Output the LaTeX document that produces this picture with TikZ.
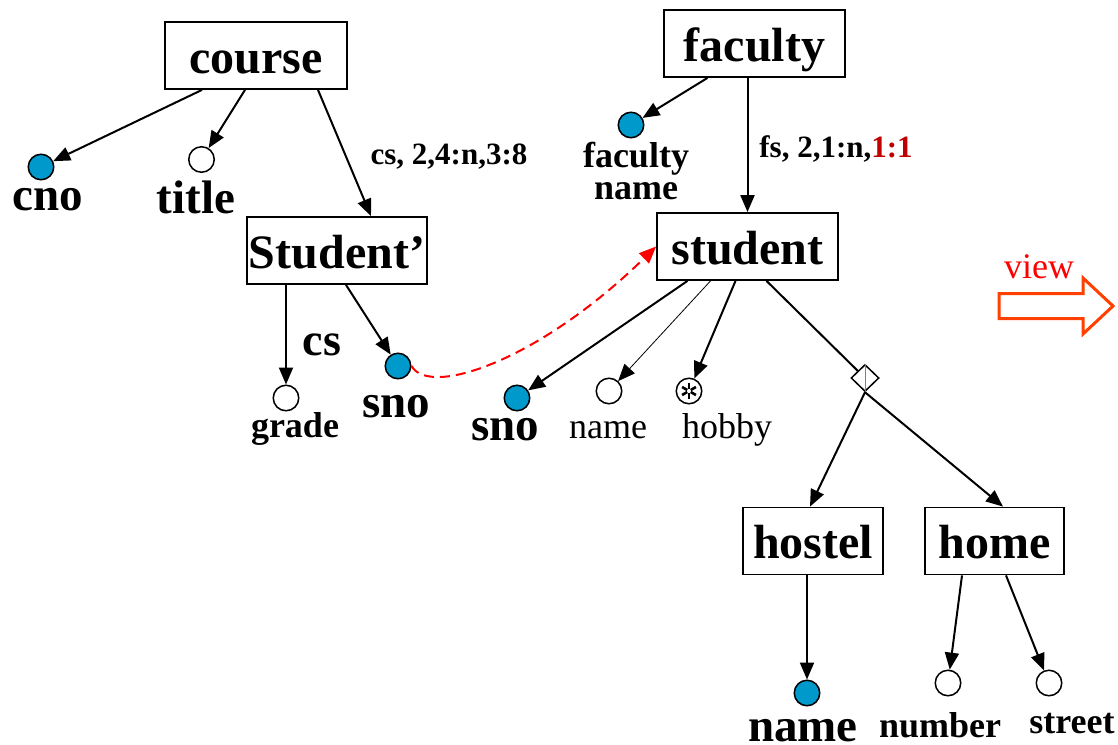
\documentclass[tikz,border=0pt]{standalone}
\usepackage{fontspec}
\setmainfont{Liberation Serif}
\usetikzlibrary{arrows.meta,shapes.geometric,calc}
\definecolor{keyblue}{RGB}{0,153,204}
\definecolor{darkred}{RGB}{192,0,0}
\definecolor{viewred}{RGB}{255,64,0}
\begin{document}
\begin{tikzpicture}[x=1pt,y=-1pt,
  entity/.style={draw, line width=1.8pt, minimum width=#1, minimum height=67pt,
    inner sep=0pt, text height=35pt, text depth=0pt,
    font=\fontsize{48}{52}\selectfont\bfseries},
  entity/.default=181pt,
  attr/.style={circle, draw, line width=1.5pt, fill=white, minimum size=25.5pt, inner sep=0pt},
  keyattr/.style={attr, fill=keyblue},
  link/.style={-{Triangle[length=17pt,width=14pt]}, line width=2pt},
  biglbl/.style={font=\fontsize{47}{50}\selectfont\bfseries, inner sep=0pt, anchor=base},
  smalllbl/.style={font=\fontsize{36}{32}\selectfont\bfseries, inner sep=0pt, anchor=base},
  plainlbl/.style={font=\fontsize{36}{40}\selectfont, inner sep=0pt, anchor=base},
  cardlbl/.style={font=\fontsize{31}{34}\selectfont\bfseries, inner sep=0pt, anchor=base}]
\useasboundingbox (0,0) rectangle (1118,744);

% entity boxes
\node[entity=182pt] (course)  at (256,55.5)  {course};
\node[entity=180pt] (studp)   at (337,250.5) {Student’};
\node[entity=181pt] (faculty) at (754.5,43.5) {faculty};
\node[entity=181pt] (student) at (747.5,246.5) {student};
\node[entity=140pt] (hostel)  at (813,541)   {hostel};
\node[entity=139pt] (home)    at (994.5,541) {home};

% attribute circles
\node[keyattr] (cno)    at (41,167)  {};
\node[attr]    (title)  at (201.5,159.5) {};
\node[attr]    (grade)  at (286,398) {};
\node[keyattr] (snoA)   at (398,366) {};
\node[keyattr] (fname)  at (631,125) {};
\node[keyattr] (snoB)   at (517,398) {};
\node[attr]    (name)   at (609,391) {};
\node[attr]    (hobby)  at (689,391) {};
\node[keyattr] (hname)  at (807,693) {};
\node[attr]    (number) at (948,683) {};
\node[attr]    (street) at (1049,683) {};
\foreach \a in {90,30,...,-210}
  \draw[line width=2.6pt] ($(hobby)+(\a:2)$) -- ($(hobby)+(\a:8)$);

% union diamond
\node[diamond, draw, line width=1.5pt, fill=white, minimum width=28pt,
      minimum height=27pt, inner sep=0pt] (dia) at (865,378) {};
\draw[gray, line width=0.8pt] (dia.north) -- (dia.south);

% attribute and edge labels
\node[biglbl] (lcno)   at (48,210)  {cno};
\node[biglbl] (ltitle) at (196,213) {title};
\node[biglbl] (lsnoA)  at (396,417) {sno};
\node[smalllbl] (lgrade) at (295,437) {grade};
\node[font=\fontsize{46}{50}\selectfont\bfseries, inner sep=0pt, anchor=base] (lcs) at (322,355) {cs};
\node[biglbl] (lsnoB)  at (505,440) {sno};
\node[plainlbl] (lname)  at (608,438) {name};
\node[plainlbl] (lhobby) at (727,438) {hobby};
\node[smalllbl, anchor=center, align=center] (lfname) at (636,171) {faculty\\name};
\node[cardlbl] (lcard1) at (449,164) {cs, 2,4:n,3:8};
\node[cardlbl] (lcard2) at (836,157) {fs, 2,1:n,\textcolor{darkred}{1:1}};
\node[biglbl] (lhname) at (803,741) {name};
\node[smalllbl] (lnumber) at (940,737) {number};
\node[smalllbl] (lstreet) at (1072,733) {street};
\node[plainlbl, text=red] (lview) at (1039,278) {view};

% connectors
\draw[link] ([xshift=-54]course.south) -- (cno);
\draw[link] ([xshift=-11]course.south) -- (title);
\draw[link] ([xshift=62]course.south) -- ([xshift=34]studp.north);
\draw[link] ([xshift=-51]studp.south) -- (grade);
\draw[link] ([xshift=9]studp.south) -- (snoA);
\draw[link] ([xshift=-47]faculty.south) -- (fname);
\draw[link] ([xshift=-7]faculty.south) -- (student.north);
\draw[link] ([xshift=-60]student.south) -- (snoB);
\draw[link, line width=0.8pt] ([xshift=-37]student.south) -- (name);
\draw[link] ([xshift=-12]student.south) -- (hobby);
\draw[line width=2pt] ([xshift=19]student.south) -- (dia);
\draw[link] (dia.south) -- ([xshift=-3]hostel.north);
\draw[link] (dia.south) -- ([xshift=8.5]home.north);
\draw[link] ([xshift=-6]hostel.south) -- (hname);
\draw[link] ([xshift=-32.5]home.south) -- (number);
\draw[link] ([xshift=11.5]home.south) -- (street);
\draw[red, line width=2pt, dash pattern=on 10pt off 6pt,
      -{Triangle[length=17pt,width=14pt]}]
  (snoA.east) .. controls (430,398) and (540,360) .. (student.west);

% view arrow
\draw[viewred, line width=3pt, line join=miter]
  (999,293.5) -- (1083,293.5) -- (1083,278) -- (1113,306) -- (1083,334)
  -- (1083,318.5) -- (999,318.5) -- cycle;
\end{tikzpicture}
\end{document}
